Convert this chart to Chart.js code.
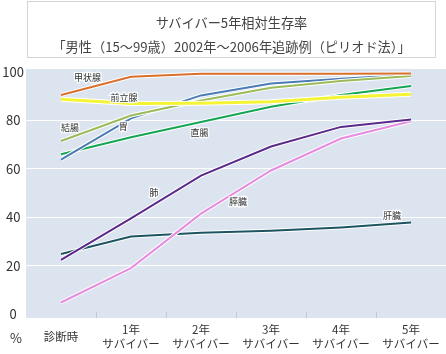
<!DOCTYPE html>
<html>
<head>
<meta charset="utf-8">
<script src="https://cdn.jsdelivr.net/npm/chart.js@4"></script>
<style>
  body { margin: 0; background: #fff; font-family: "Noto Sans CJK JP", sans-serif; }
  #wrap { position: relative; width: 446px; height: 354px; }
  #title {
    position: absolute; left: 27px; top: 1px; width: 409px; height: 57px;
    border: 1px solid #d4d4d4; text-align: center; color: #444;
    font-size: 13.2px; line-height: 24px; padding-top: 9px; box-sizing: border-box;
  }
  #pct { position: absolute; left: 10px; top: 328px; font-size: 13px; color: #333; }
  canvas { position: absolute; left: 0; top: 0; }
</style>
</head>
<body>
<div id="wrap">
  <canvas id="chart" width="446" height="354"></canvas>
  <div id="title">サバイバー5年相対生存率<br>「男性（15～99歳）2002年～2006年追跡例（ピリオド法）」</div>
  <div id="pct">%</div>
</div>
<script>
const categories = [
  "診断時",
  ["1年", "サバイバー"],
  ["2年", "サバイバー"],
  ["3年", "サバイバー"],
  ["4年", "サバイバー"],
  ["5年", "サバイバー"]
];
const yTicks = [0, 20, 40, 60, 80, 100];

const thyroid = [90.5, 98, 99.2, 99.2, 99.2, 99.3];
const prostate = [88.7, 87, 87.1, 87.7, 89.5, 90.8];
const stomach = [63.8, 80.8, 90.3, 95.2, 97.2, 98.8];
const colon = [71.5, 82, 88.2, 93.5, 96.2, 98.3];
const rectum = [66, 73, 79.3, 85.6, 90.5, 94.2];
const lung = [22.4, 39.5, 57.2, 69.2, 77.3, 80.4];
const pancreas = [4.8, 19, 41.5, 59.3, 72.5, 79.6];
const liver = [24.8, 32, 33.6, 34.4, 35.8, 37.8];

const series = [
  { name: "甲状腺", data: thyroid, color: "#d8702b", width: 2, label: [0.38, 97.5] },
  { name: "前立腺", data: prostate, color: "#f4f434", width: 3, label: [0.9, 89.3] },
  { name: "結腸", data: colon, color: "#9bbb59", width: 2, label: [0.13, 76.9] },
  { name: "胃", data: stomach, color: "#4b7bb5", width: 2, label: [0.89, 77.3] },
  { name: "直腸", data: rectum, color: "#14a652", width: 2, label: [1.98, 74.8] },
  { name: "肺", data: lung, color: "#5a2a8a", width: 2, label: [1.33, 50] },
  { name: "膵臓", data: pancreas, color: "#e58ce0", width: 2, label: [2.53, 46.3] },
  { name: "肝臓", data: liver, color: "#1d5461", width: 2, label: [4.73, 40.5] }
];

// datasets with a lower index are drawn on top, so each colour line comes before its white halo
const datasets = [];
series.forEach(s => {
  datasets.push({ label: s.name, data: s.data, borderColor: s.color, borderWidth: s.width, pointRadius: 0, tension: 0 });
  datasets.push({ label: s.name + "_halo", data: s.data, borderColor: "#ffffff", borderWidth: s.width + 2, pointRadius: 0, tension: 0 });
});

const plotBg = {
  id: "plotBg",
  beforeDraw(chart) {
    const { ctx, chartArea: a } = chart;
    ctx.save();
    ctx.fillStyle = "#dce4f0";
    ctx.fillRect(a.left, a.top, a.right - a.left, a.bottom - a.top);
    ctx.restore();
  },
  beforeDatasetsDraw(chart) {
    const { ctx, chartArea: a, scales: { x } } = chart;
    ctx.save();
    ctx.strokeStyle = "#c4c8cf";
    ctx.lineWidth = 1;
    for (let i = 0; i < categories.length - 1; i++) {
      const px = Math.round((x.getPixelForValue(i) + x.getPixelForValue(i + 1)) / 2) + 0.5;
      ctx.beginPath();
      ctx.moveTo(px, a.bottom - 6);
      ctx.lineTo(px, a.bottom);
      ctx.stroke();
    }
    ctx.restore();
  },
  afterDatasetsDraw(chart) {
    const { ctx, scales: { x, y } } = chart;
    ctx.save();
    ctx.font = "9px 'Noto Sans CJK JP'";
    ctx.textAlign = "center";
    ctx.textBaseline = "middle";
    series.forEach(s => {
      const px = x.getPixelForValue(s.label[0]);
      const py = y.getPixelForValue(s.label[1]);
      ctx.strokeStyle = "rgba(255,255,255,0.9)";
      ctx.lineWidth = 2.5;
      ctx.strokeText(s.name, px, py);
      ctx.fillStyle = "#333";
      ctx.fillText(s.name, px, py);
    });
    ctx.restore();
  }
};

new Chart(document.getElementById("chart"), {
  type: "line",
  data: { labels: categories, datasets },
  plugins: [plotBg],
  options: {
    responsive: false,
    animation: false,
    layout: { padding: { top: 69, right: 0, left: 0, bottom: 0 } },
    plugins: { legend: { display: false }, tooltip: { enabled: false } },
    scales: {
      x: {
        offset: true,
        afterFit(scale) { scale.height = 36; },
        grid: { display: false },
        border: { display: false },
        ticks: {
          color: "#333",
          font: { size: 11.5, family: "'Noto Sans CJK JP'", lineHeight: 1.22 },
          maxRotation: 0,
          autoSkip: false,
          crossAlign: "center",
          padding: 4
        }
      },
      y: {
        min: -1.6,
        max: 101.2,
        afterBuildTicks(scale) { scale.ticks = yTicks.map(v => ({ value: v })); },
        afterFit(scale) { scale.width = 26; },
        grid: {
          color: ctx => (ctx.tick && ctx.tick.value > 0 && ctx.tick.value < 100 ? "#ffffff" : "rgba(0,0,0,0)"),
          lineWidth: 1,
          drawTicks: false
        },
        border: { display: false },
        ticks: {
          color: "#333",
          font: { size: 13, family: "'Noto Sans CJK JP'" },
          crossAlign: "center",
          padding: 2
        }
      }
    }
  }
});
</script>
</body>
</html>
